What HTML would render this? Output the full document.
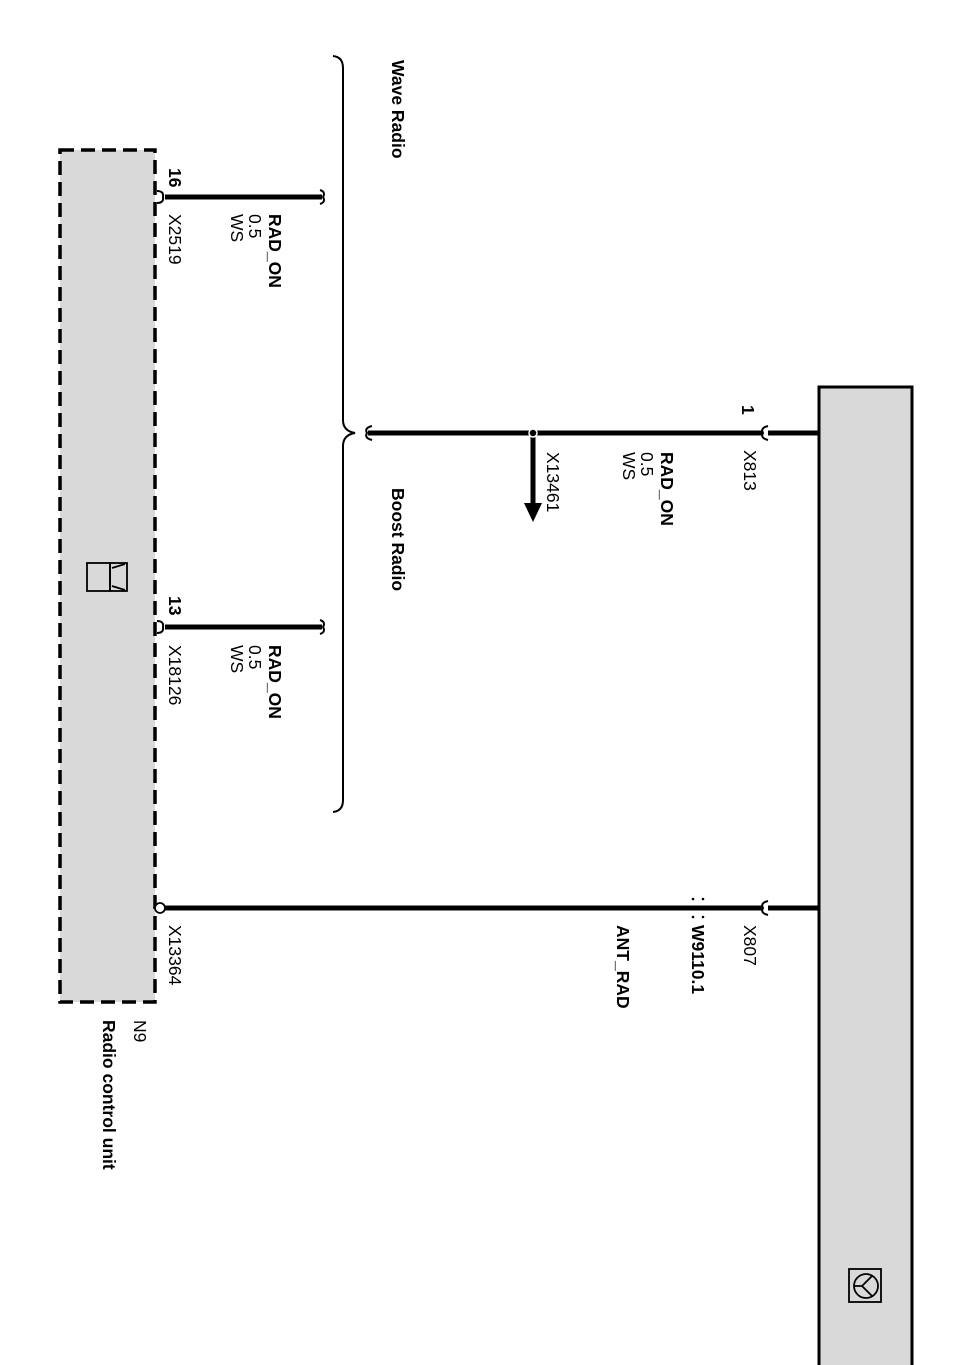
<!DOCTYPE html>
<html><head><meta charset="utf-8">
<style>
html,body{margin:0;padding:0;background:#fff;}
svg{display:block;}
text{font-family:"Liberation Sans",Arial,sans-serif;fill:#000;}
</style></head>
<body>
<svg width="955" height="1365" viewBox="0 0 955 1365" xmlns="http://www.w3.org/2000/svg">
<rect x="819" y="387" width="93" height="990" fill="#d9d9d9" stroke="#000" stroke-width="3"/>
<rect x="60" y="150" width="95" height="852" fill="#d9d9d9" stroke="#000" stroke-width="3.5" stroke-dasharray="14,7"/>
<g stroke="#000" stroke-width="1.8" fill="none">
<rect x="87" y="563" width="23" height="28"/>
<rect x="110" y="563" width="17" height="28"/>
<path d="M112 568 L125 564 M112 586 L125 590"/>
</g>
<g stroke="#000" stroke-width="1.8" fill="none">
<rect x="849" y="1269" width="32" height="33"/>
<circle cx="866" cy="1286" r="12"/>
<path d="M854 1286 L862 1286 L872 1276 M862 1286 L872 1296"/>
</g>
<g stroke="#000" stroke-width="5" fill="none">
<line x1="165" y1="197" x2="322" y2="197"/>
<line x1="368" y1="433" x2="762" y2="433"/>
<line x1="768" y1="433" x2="819" y2="433"/>
<line x1="165" y1="627" x2="322" y2="627"/>
<line x1="164" y1="908" x2="762" y2="908"/>
<line x1="768" y1="908" x2="819" y2="908"/>
<line x1="533" y1="433" x2="533" y2="505"/>
</g>
<polygon points="524,503 542,503 533,522" fill="#000"/>
<circle cx="533" cy="433" r="4" fill="#000" stroke="#fff" stroke-width="1.5"/>
<g stroke="#000" stroke-width="2" fill="none">
<path d="M157 191 Q164 191 163 197 Q164 203 157 203"/>
<path d="M157 621 Q164 621 163 627 Q164 633 157 633"/>
<path d="M320 190 Q326 192 323 197 Q326 202 320 204"/>
<path d="M320 620 Q326 622 323 627 Q326 632 320 634"/>
<path d="M372 426 Q364 428 367 433 Q364 438 372 440"/>
<path d="M768 426 Q760 428 763 433 Q760 438 768 440"/>
<path d="M768 901 Q760 903 763 908 Q760 913 768 915"/>
<path d="M333 56 Q343 57 343 68 L343 420 Q343 431 355 433 Q343 435 343 446 L343 800 Q343 811 333 812"/>
</g>
<circle cx="160" cy="908" r="5" fill="#fff" stroke="#000" stroke-width="1.8"/>
<g fill="#000"><circle cx="693" cy="899" r="1.3"/><circle cx="703" cy="899" r="1.3"/><circle cx="693" cy="917" r="1.3"/><circle cx="703" cy="917" r="1.3"/></g>
<g font-size="17.5">
<text transform="translate(169,168) rotate(90)" font-weight="bold">16</text>
<text transform="translate(169,214) rotate(90)">X2519</text>
<text transform="translate(269,214) rotate(90)" font-weight="bold">RAD_ON</text>
<text transform="translate(249,214) rotate(90)">0.5</text>
<text transform="translate(231,214) rotate(90)">WS</text>
<text transform="translate(392,60) rotate(90)" font-weight="bold">Wave Radio</text>
<text transform="translate(392,488) rotate(90)" font-weight="bold">Boost Radio</text>
<text transform="translate(742,405) rotate(90)" font-weight="bold">1</text>
<text transform="translate(744,450) rotate(90)">X813</text>
<text transform="translate(661,452) rotate(90)" font-weight="bold">RAD_ON</text>
<text transform="translate(641,452) rotate(90)">0.5</text>
<text transform="translate(623,452) rotate(90)">WS</text>
<text transform="translate(547,452) rotate(90)">X13461</text>
<text transform="translate(169,596) rotate(90)" font-weight="bold">13</text>
<text transform="translate(169,645) rotate(90)">X18126</text>
<text transform="translate(269,645) rotate(90)" font-weight="bold">RAD_ON</text>
<text transform="translate(249,645) rotate(90)">0.5</text>
<text transform="translate(231,645) rotate(90)">WS</text>
<text transform="translate(169,925) rotate(90)">X13364</text>
<text transform="translate(744,925) rotate(90)">X807</text>
<text transform="translate(692,925) rotate(90)" font-weight="bold">W9110.1</text>
<text transform="translate(617,925) rotate(90)" font-weight="bold">ANT_RAD</text>
<text transform="translate(134,1020) rotate(90)">N9</text>
<text transform="translate(103,1020) rotate(90)" font-weight="bold">Radio control unit</text>
</g>
</svg>
</body></html>
